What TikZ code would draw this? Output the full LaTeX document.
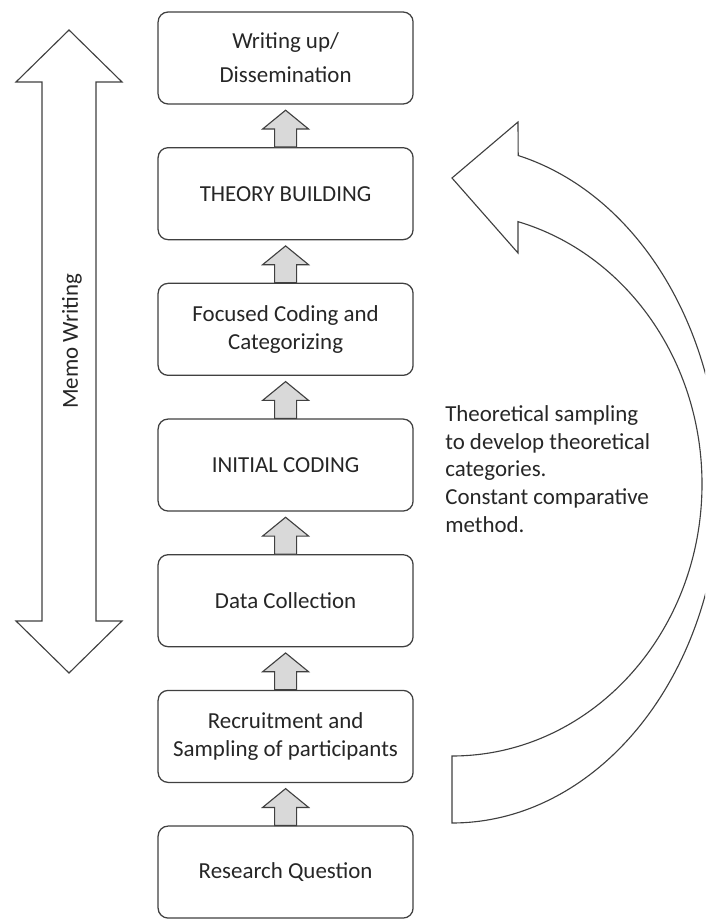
\documentclass[tikz,border=0pt]{standalone}
\usepackage{fontspec}
\setmainfont{Carlito}
\usetikzlibrary{calc}

\begin{document}
\begin{tikzpicture}[
        stage/.style={draw=black!75,line width=0.9pt,rounded corners=0.25cm,fill=white,
            minimum width=6.375cm,minimum height=2.3cm,align=center,text=black!85,
            font=\fontsize{16.3}{19.6}\selectfont},
        uparrow/.style={draw=black!75,line width=0.8pt,fill=gray!30},
        fatarrow/.style={draw=black!75,line width=0.8pt,fill=white},
        label/.style={text=black!85,font=\fontsize{16.3}{19.6}\selectfont}]
        \clip (0,0) rectangle (17.625,23);
        % memo writing double arrow
        \draw[fatarrow] (1.05,20.95) -- (0.4,20.95) -- (1.725,22.25) -- (3.05,20.95) -- (2.4,20.95)
            -- (2.4,7.475) -- (3.05,7.475) -- (1.725,6.175) -- (0.4,7.475) -- (1.05,7.475) -- cycle;
        \node[label,rotate=90] (memo) at (1.8,14.47) {Memo Writing};
        % curved feedback arrow
        \draw[fatarrow] (11.3,18.55) -- (12.95,19.95) -- (12.955,19.112)
            arc[start angle=75.7,end angle=-90,x radius=6.7,y radius=8.475] -- (11.3,4.1)
            arc[start angle=-90,end angle=74.7,x radius=6.25,y radius=6.8] -- (12.95,16.675) -- cycle;
        \node[label,anchor=north west,inner sep=0,align=left] (ts) at (11.125,12.86)
            {Theoretical sampling\\to develop theoretical\\categories.\\Constant comparative\\method.};
        % stages
        \node[stage,font=\fontsize{16.3}{24.2}\selectfont] (wu) at (7.14,21.55) {Writing up/\\Dissemination};
        \node[stage] (tb) at (7.14,18.158) {THEORY BUILDING};
        \node[stage] (fc) at (7.14,14.766) {Focused Coding and\\Categorizing};
        \node[stage] (ic) at (7.14,11.374) {INITIAL CODING};
        \node[stage] (dc) at (7.14,7.982) {Data Collection};
        \node[stage] (rs) at (7.14,4.59) {Recruitment and\\Sampling of participants};
        \node[stage] (rq) at (7.14,1.198) {Research Question};
        % small arrows between stages
        \foreach \lo/\hi in {rq/rs,rs/dc,dc/ic,ic/fc,fc/tb,tb/wu}
            \draw[uparrow] ($(\lo.north)+(-0.275,0)$) -- ++(0,0.45) -- ++(-0.3,0)
                -- ($(\hi.south)+(0,-0.14)$) -- ($(\lo.north)+(0.575,0.45)$) -- ++(-0.3,0) -- ++(0,-0.45) -- cycle;
\end{tikzpicture}
\end{document}
